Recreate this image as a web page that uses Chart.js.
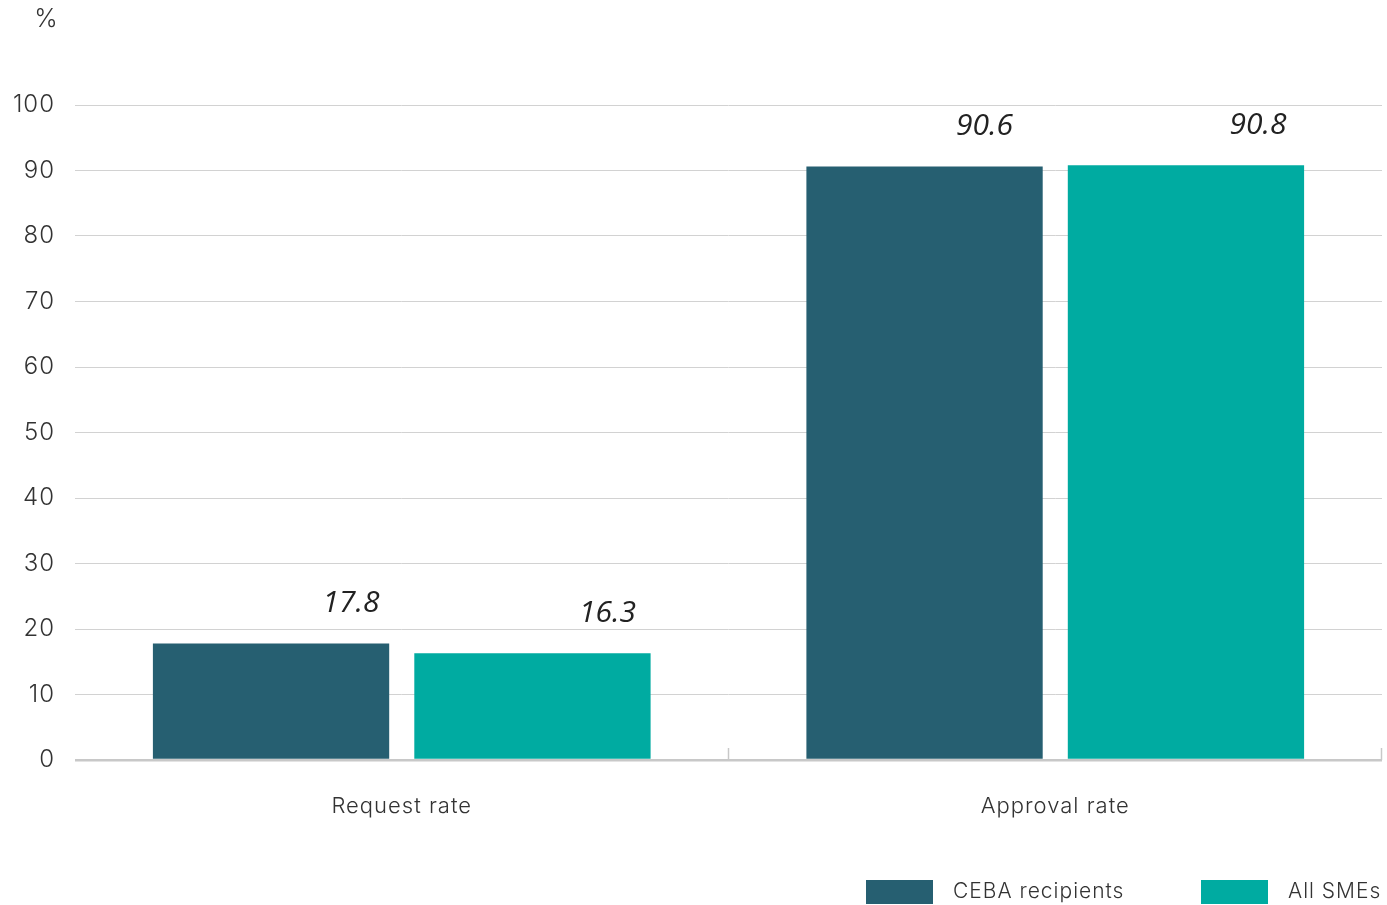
<!DOCTYPE html>
<html>
<head>
<meta charset="utf-8">
<script src="https://cdn.jsdelivr.net/npm/chart.js@4/dist/chart.umd.min.js"></script>
<style>
html,body{margin:0;padding:0;background:#fff;}
#wrap{position:relative;width:1387px;height:905px;}
</style>
</head>
<body>
<div id="wrap"><canvas id="c" width="1387" height="905"></canvas></div>
<script>
const categories = ["Request rate", "Approval rate"];
const seriesNames = ["CEBA recipients", "All SMEs"];
const cebaValues = [17.8, 90.6];
const smeValues = [16.3, 90.8];
const yTicks = [0, 10, 20, 30, 40, 50, 60, 70, 80, 90, 100];
const yUnit = "%";

const COLORS = ["#265f71", "#00aba1"];
const TICK_FONT = "Inter";
const LABEL_DX = [[80, 60], [75, 72]];

const extras = {
  id: "extras",
  beforeDraw(chart) {
    chart.ctx.letterSpacing = "1px";
  },
  afterDraw(chart) {
    const ctx = chart.ctx;
    const area = chart.chartArea;
    const x = chart.scales.x;
    ctx.save();
    ctx.letterSpacing = "0px";
    ctx.fillStyle = "#333";
    ctx.font = "300 25px " + TICK_FONT;
    ctx.textAlign = "center";
    ctx.textBaseline = "middle";
    ctx.fillText(yUnit, 46, 19);
    // category boundary ticks
    ctx.strokeStyle = "#c8c8c8";
    ctx.lineWidth = 1.5;
    const step = x.getPixelForValue(1) - x.getPixelForValue(0);
    for (let i = 0; i < categories.length; i++) {
      const bx = Math.round(x.getPixelForValue(i) + step / 2) - 0.5;
      ctx.beginPath();
      ctx.moveTo(bx, area.bottom - 12);
      ctx.lineTo(bx, area.bottom);
      ctx.stroke();
    }
    // value labels
    ctx.fillStyle = "#222";
    ctx.font = "italic 30px 'Open Sans'";
    ctx.textAlign = "center";
    ctx.textBaseline = "middle";
    chart.data.datasets.forEach((ds, di) => {
      const meta = chart.getDatasetMeta(di);
      meta.data.forEach((bar, i) => {
        ctx.fillText(ds.data[i].toFixed(1), bar.x + LABEL_DX[di][i], bar.y - 40);
      });
    });
    // legend
    ctx.letterSpacing = "1px";
    ctx.font = "300 21px " + TICK_FONT;
    ctx.textAlign = "left";
    ctx.textBaseline = "middle";
    const legendX = [866, 1201];
    chart.data.datasets.forEach((ds, di) => {
      ctx.fillStyle = ds.backgroundColor;
      ctx.fillRect(legendX[di], 880, 67, 24);
      ctx.fillStyle = "#333";
      ctx.fillText(ds.label, legendX[di] + 87, 892);
    });
    ctx.restore();
  }
};

new Chart(document.getElementById("c"), {
  type: "bar",
  data: {
    labels: categories,
    datasets: [
      { label: seriesNames[0], data: cebaValues, backgroundColor: COLORS[0] },
      { label: seriesNames[1], data: smeValues, backgroundColor: COLORS[1] }
    ]
  },
  options: {
    responsive: false,
    animation: false,
    devicePixelRatio: 1,
    layout: { padding: { top: 105, right: 5, bottom: 0, left: 0 } },
    categoryPercentage: 0.8,
    barPercentage: 0.904,
    plugins: { legend: { display: false }, tooltip: { enabled: false } },
    scales: {
      x: {
        grid: { display: false },
        border: { display: false },
        ticks: { color: "#333", font: { family: TICK_FONT, size: 22, weight: 300 }, padding: 25 },
        afterFit(s) { s.height = 145; }
      },
      y: {
        min: 0, max: 100,
        afterBuildTicks(s) { s.ticks = yTicks.map(v => ({ value: v })); },
        grid: {
          drawTicks: false,
          color: c => c.tick && c.tick.value === 0 ? "#c8c8c8" : "#d2d2d2",
          lineWidth: c => c.tick && c.tick.value === 0 ? 2.5 : 1
        },
        border: { display: false },
        ticks: { color: "#333", font: { family: TICK_FONT, size: 24, weight: 300 }, padding: 20 },
        afterFit(s) { s.width = 75; }
      }
    }
  },
  plugins: [extras]
});
</script>
</body>
</html>
